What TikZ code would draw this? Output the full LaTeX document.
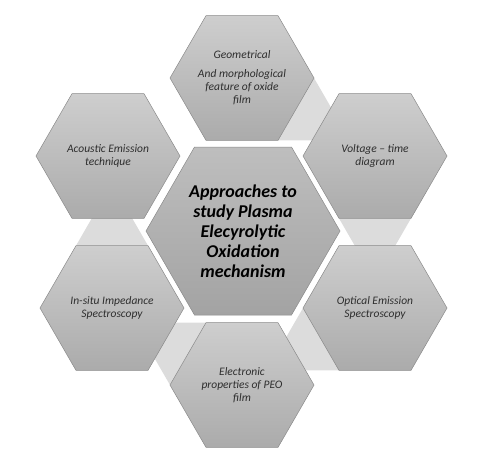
\documentclass[tikz,border=0pt]{standalone}
\usepackage{fontspec}
\setmainfont{Carlito}
\usetikzlibrary{shapes.geometric,calc,backgrounds}
\definecolor{hextop}{HTML}{CECECE}
\definecolor{hexbottom}{HTML}{ABABAB}
\definecolor{coretop}{HTML}{BEBEBE}
\definecolor{corebottom}{HTML}{A3A3A3}
\definecolor{linkgray}{HTML}{DCDCDC}
\definecolor{hexline}{HTML}{8A8A8A}
\definecolor{textgray}{HTML}{2E2E2E}
\begin{document}
\begin{tikzpicture}[x=1pt,y=-1pt]

% Style for nodes
\tikzstyle{hexa}=[regular polygon,regular polygon sides=6,draw=hexline,line width=0.5pt,inner sep=0pt,outer sep=0pt,minimum size=144pt,align=center,text=textgray,font=\fontsize{11.5}{13}\selectfont\itshape,top color=hextop,bottom color=hexbottom]
\tikzstyle{corehex}=[hexa,minimum size=194pt,text=black,font=\fontsize{18}{20}\selectfont\bfseries\itshape,top color=coretop,bottom color=corebottom]
\tikzstyle{link}=[fill=linkgray]

\useasboundingbox (0,0) rectangle (478,448);

% The hexagons
\node[corehex](core) at (243,231){Approaches to\\study Plasma\\Elecyrolytic\\Oxidation\\mechanism};
\node[hexa](geo) at (242,78){Geometrical\\[6pt]And morphological\\feature of oxide\\film};
\node[hexa](volt) at (375,156){Voltage -- time\\diagram};
\node[hexa](optic) at (375,308){Optical Emission\\Spectroscopy};
\node[hexa](elec) at (242,385){Electronic\\properties of PEO\\film};
\node[hexa](insitu) at (112,308){In-situ Impedance\\Spectroscopy};
\node[hexa](acoustic) at (108,156){Acoustic Emission\\technique};

% Links between neighbours
\begin{pgfonlayer}{background}
\foreach \hx/\a/\b in {geo/0/-60,volt/-60/-120,optic/-120/180,elec/180/120,insitu/120/60}
  \fill[link] (\hx.\a) -- (\hx.\b) -- ($(\hx.\b)!1!-60:(\hx.\a)$) -- cycle;
\end{pgfonlayer}
\end{tikzpicture}
\end{document}
